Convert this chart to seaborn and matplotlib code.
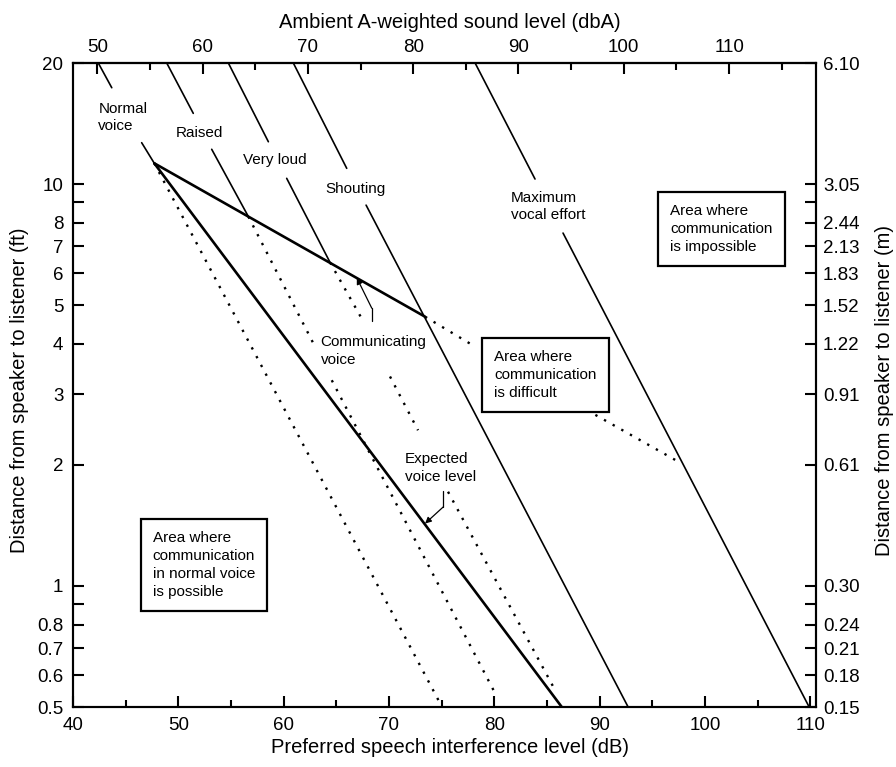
import matplotlib
matplotlib.use("Agg")
import matplotlib.pyplot as plt
from matplotlib.ticker import FixedLocator, FixedFormatter, NullLocator
import numpy as np
import pandas as pd
import seaborn as sns

# ---------------- data (x = preferred speech interference level, dB; d = distance, ft) ----------------
# each segment: (x_start, d_start, x_end, d_end)
normal_solid = [(42.40, 20.0, 43.68, 17.36), (46.52, 12.67, 47.72, 11.26)]
normal_dotted = [(47.72, 11.26, 74.85, 0.511)]
raised_solid = [(48.90, 20.0, 51.42, 14.99), (53.17, 12.20, 56.65, 8.30)]
raised_dotted = [(56.65, 8.30, 62.98, 3.94), (64.57, 3.25, 80.08, 0.541)]
veryloud_solid = [(54.75, 20.0, 58.55, 12.74), (60.29, 10.33, 64.41, 6.38)]
veryloud_dotted = [(64.41, 6.38, 67.57, 4.55), (70.10, 3.32, 72.76, 2.44), (75.61, 1.716, 85.77, 0.551)]
shouting_solid = [(60.92, 20.0, 65.99, 10.94), (67.83, 8.86, 92.71, 0.50)]
maxvocal_solid = [(78.18, 20.0, 83.87, 10.29), (86.53, 7.55, 109.90, 0.50)]
communicating_solid = [(47.72, 11.26, 73.43, 4.676)]
communicating_dotted = [(73.43, 4.676, 78.18, 3.94), (88.78, 2.74, 97.48, 2.038)]
expected_solid = [(47.72, 11.26, 86.41, 0.50)]

ft_ticks = [0.5, 0.6, 0.7, 0.8, 0.9, 1, 2, 3, 4, 5, 6, 7, 8, 9, 10, 20]
ft_labels = ["0.5", "0.6", "0.7", "0.8", "", "1", "2", "3", "4", "5", "6", "7", "8", "", "10", "20"]
m_labels = ["0.15", "0.18", "0.21", "0.24", "", "0.30", "0.61", "0.91", "1.22", "1.52",
            "1.83", "2.13", "2.44", "", "3.05", "6.10"]
db_major = [40, 50, 60, 70, 80, 90, 100, 110]
db_minor = [45, 55, 65, 75, 85, 95, 105]
dba_major = [50, 60, 70, 80, 90, 100, 110]
dba_minor = [55, 65, 75, 85, 95, 105, 115]
dba_offset = 7.7

# ---------------- build long table ----------------
groups = [
    ("normal", normal_solid, "solid", "thin"),
    ("normal", normal_dotted, "dotted", "dot"),
    ("raised", raised_solid, "solid", "thin"),
    ("raised", raised_dotted, "dotted", "dot"),
    ("veryloud", veryloud_solid, "solid", "thin"),
    ("veryloud", veryloud_dotted, "dotted", "dot"),
    ("shouting", shouting_solid, "solid", "thin"),
    ("maxvocal", maxvocal_solid, "solid", "thin"),
    ("communicating", communicating_solid, "solid", "thick"),
    ("communicating", communicating_dotted, "dotted", "dot"),
    ("expected", expected_solid, "solid", "thick"),
]
rows = []
seg_id = 0
for name, segs, kind, weight in groups:
    for (x0, d0, x1, d1) in segs:
        rows.append(dict(seg=seg_id, line=name, kind=kind, weight=weight, x=x0, d=d0))
        rows.append(dict(seg=seg_id, line=name, kind=kind, weight=weight, x=x1, d=d1))
        seg_id += 1
df = pd.DataFrame(rows)

# ---------------- style ----------------
sns.set_style("white")
plt.rcParams["font.family"] = ["Liberation Sans", "DejaVu Sans"]
plt.rcParams["axes.linewidth"] = 1.5
for k in ["text.color", "axes.labelcolor", "xtick.color", "ytick.color", "axes.edgecolor"]:
    plt.rcParams[k] = "black"

fig = plt.figure(figsize=(8.96, 7.67), dpi=100)
ax = fig.add_axes([73 / 896, 1 - 707 / 767, (816 - 73) / 896, (707 - 63) / 767])
ax.set_yscale("log")

sns.lineplot(data=df, x="x", y="d", units="seg", estimator=None, sort=False,
             style="kind", dashes={"solid": "", "dotted": (1, 3.2)},
             size="weight", sizes={"thin": 1.2, "thick": 1.9, "dot": 1.7},
             color="black", legend=False, ax=ax)

ax.set_xlim(40, 110.55)
ax.set_ylim(0.5, 20)
ax.set_xlabel("")
ax.set_ylabel("")

for sp in ax.spines.values():
    sp.set_visible(True)
    sp.set_linewidth(1.5)
    sp.set_color("black")

ax.xaxis.set_major_locator(FixedLocator(db_major))
ax.xaxis.set_minor_locator(FixedLocator(db_minor))
ax.yaxis.set_major_locator(FixedLocator(ft_ticks))
ax.yaxis.set_major_formatter(FixedFormatter(ft_labels))
ax.yaxis.set_minor_locator(NullLocator())
ax.tick_params(which="major", direction="in", length=8, width=1.5, labelsize=13.5, pad=7,
               bottom=True, left=True, top=False, right=False, colors="black")
ax.tick_params(which="minor", direction="in", length=5, width=1.5, bottom=True, top=False)
ax.tick_params(axis="y", pad=7)

# right axis (metres)
ax2 = ax.twinx()
ax2.set_yscale("log")
ax2.set_ylim(0.5, 20)
ax2.yaxis.set_major_locator(FixedLocator(ft_ticks))
ax2.yaxis.set_major_formatter(FixedFormatter(m_labels))
ax2.yaxis.set_minor_locator(NullLocator())
ax2.tick_params(axis="y", which="major", direction="in", length=8, width=1.5, labelsize=13.5, pad=5,
                colors="black")
for sp in ax2.spines.values():
    sp.set_linewidth(1.5)
    sp.set_color("black")

# top axis (dBA)
sec = ax.secondary_xaxis("top", functions=(lambda v: v + dba_offset, lambda v: v - dba_offset))
sec.xaxis.set_major_locator(FixedLocator(dba_major))
sec.xaxis.set_minor_locator(FixedLocator(dba_minor))
sec.tick_params(which="major", direction="in", length=8, width=1.5, labelsize=13.5, pad=5, colors="black")
sec.tick_params(which="minor", direction="in", length=5, width=1.5)
sec.spines["top"].set_linewidth(1.5)

# axis titles
lab_fs = 14.5
fig.text(0.502, 1 - 28.5 / 767, "Ambient A-weighted sound level (dbA)", ha="center", va="baseline", fontsize=lab_fs)
fig.text(0.502, 1 - 753 / 767, "Preferred speech interference level (dB)", ha="center", va="baseline", fontsize=lab_fs)
fig.text(25 / 896, 1 - 390 / 767, "Distance from speaker to listener (ft)", rotation=90,
         ha="center", va="baseline", rotation_mode="anchor", fontsize=lab_fs)
fig.text(890 / 896, 1 - 390 / 767, "Distance from speaker to listener (m)", rotation=90,
         ha="center", va="baseline", rotation_mode="anchor", fontsize=lab_fs)

# curve labels
tfs = 11
ls = 1.35
ax.text(42.40, 16.03, "Normal\nvoice", ha="left", va="top", fontsize=tfs, linespacing=ls)
ax.text(49.72, 13.96, "Raised", ha="left", va="top", fontsize=tfs, linespacing=ls)
ax.text(56.17, 11.92, "Very loud", ha="left", va="top", fontsize=tfs, linespacing=ls)
ax.text(63.93, 10.13, "Shouting", ha="left", va="top", fontsize=tfs, linespacing=ls)
ax.text(81.57, 9.63, "Maximum\nvocal effort", ha="left", va="top", fontsize=tfs, linespacing=ls)
ax.text(63.52, 4.21, "Communicating\nvoice", ha="left", va="top", fontsize=tfs, linespacing=ls)
ax.text(71.53, 2.158, "Expected\nvoice level", ha="left", va="top", fontsize=tfs, linespacing=ls)

box = dict(boxstyle="square,pad=0.8", fc="white", ec="black", lw=1.6)
ax.text(96.70, 8.90, "Area where\ncommunication\nis impossible", ha="left", va="top",
        fontsize=tfs, linespacing=ls, bbox=box, zorder=5)
ax.text(80.01, 3.864, "Area where\ncommunication\nis difficult", ha="left", va="top",
        fontsize=tfs, linespacing=ls, bbox=box, zorder=5)
ax.text(47.57, 1.370, "Area where\ncommunication\nin normal voice\nis possible", ha="left", va="top",
        fontsize=tfs, linespacing=ls, bbox=box, zorder=5)

# leader arrows
ax.plot([68.37, 68.37], [4.55, 4.91], color="black", lw=0.9)
ax.annotate("", xy=(66.95, 5.84), xytext=(68.37, 4.91),
            arrowprops=dict(arrowstyle="-|>", lw=0.9, color="black", mutation_scale=9,
                            shrinkA=0, shrinkB=0))
ax.plot([75.17, 75.17], [1.726, 1.574], color="black", lw=0.9)
ax.annotate("", xy=(73.43, 1.43), xytext=(75.17, 1.574),
            arrowprops=dict(arrowstyle="-|>", lw=0.9, color="black", mutation_scale=9,
                            shrinkA=0, shrinkB=0))

fig.savefig("out.png", dpi=100)
